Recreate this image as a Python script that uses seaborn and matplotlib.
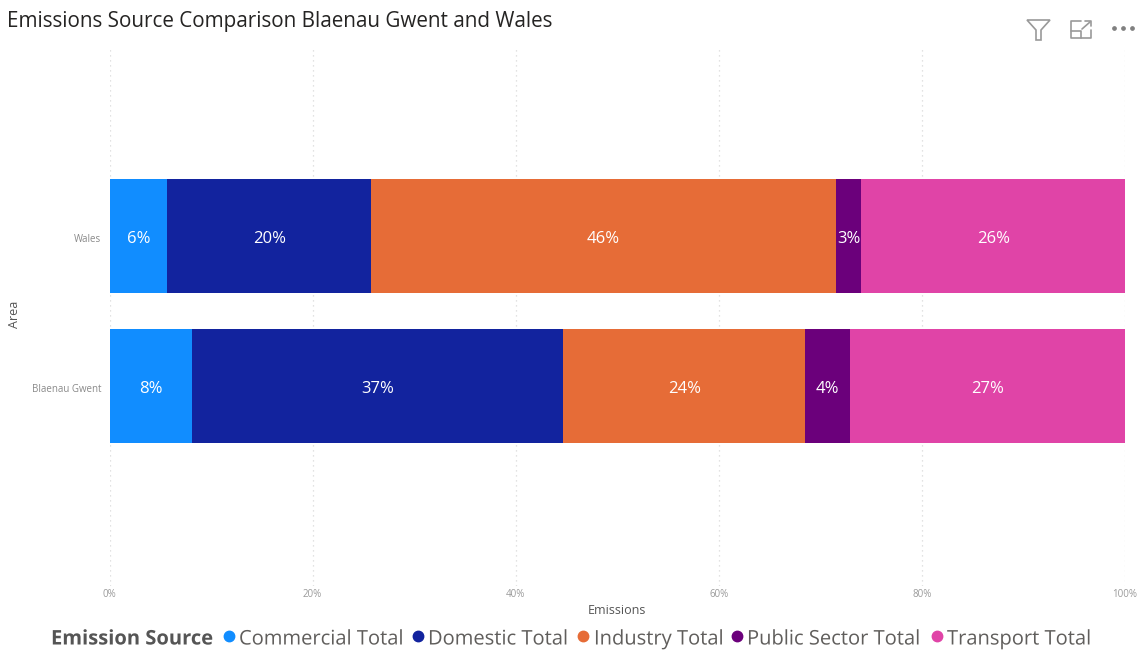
import matplotlib
matplotlib.use("Agg")
import matplotlib.pyplot as plt
import matplotlib.patheffects as pe
from matplotlib.lines import Line2D
from matplotlib.patches import Polygon
from matplotlib.transforms import ScaledTranslation
import pandas as pd
import seaborn as sns

areas = ["Wales", "Blaenau Gwent"]
sources = ["Commercial Total", "Domestic Total", "Industry Total",
           "Public Sector Total", "Transport Total"]
commercial = [5.7, 8.1]
domestic = [20.1, 36.6]
industry = [45.7, 23.8]
public_sector = [2.55, 4.4]
transport = [25.95, 27.1]
series = [commercial, domestic, industry, public_sector, transport]
colors = ["#118DFF", "#12239E", "#E66C37", "#6B007B", "#E044A7"]
ticks = [0, 20, 40, 60, 80, 100]

W, H = 1139, 652
sns.set_theme(style="white")
plt.rcParams["font.family"] = ["Open Sans", "DejaVu Sans"]
fig = plt.figure(figsize=(W / 100, H / 100), dpi=100, facecolor="white")
L, R, T, B = 109.5, 1125, 47, 586
ax = fig.add_axes([L / W, 1 - B / H, (R - L) / W, (B - T) / H])

left = [0.0, 0.0]
for name, vals, col in zip(sources, series, colors):
    df = pd.DataFrame({"Area": areas, "Emissions": vals})
    sns.barplot(data=df, y="Area", x="Emissions", order=areas, left=left,
                color=col, saturation=1, width=0.76, ax=ax, zorder=3,
                edgecolor="none", linewidth=0, label=name, legend=False)
    cont = ax.containers[-1]
    labs = ax.bar_label(cont, labels=[f"{v:.0f}%" for v in vals], label_type="center",
                        color="white", fontsize=12, zorder=4)
    for t in labs:
        t.xyann = (0, -2.2)
    left = [a + b for a, b in zip(left, vals)]

ax.set_xlim(0, 100)
ax.set_ylim((B - 236) / 150, -(236 - T) / 150)
ax.set_xticks(ticks)
ax.set_xticklabels([f"{t}%" for t in ticks], fontsize=7, color="#9a9a9a")
ax.tick_params(axis="x", length=0, pad=2.5)
ax.tick_params(axis="y", length=0, pad=5.8, labelsize=7, labelcolor="#8a8a8a")
for lbl in ax.get_yticklabels():
    lbl.set_transform(lbl.get_transform() + ScaledTranslation(0, -1.5 / 100, fig.dpi_scale_trans))
ax.xaxis.grid(True, color="#d9d9d9", linestyle=(0, (1, 3)), linewidth=0.9, zorder=0)
ax.yaxis.grid(False)
ax.set_axisbelow(True)
for s in ax.spines.values():
    s.set_visible(False)
ax.set_xlabel("Emissions", fontsize=9, color="#555555")
ax.set_ylabel("Area", fontsize=9, color="#555555")
ax.yaxis.set_label_coords((14 - L) / (R - L), (B - 314) / (B - T))
ax.xaxis.set_label_coords((617 - L) / (R - L), -(610 - B) / (B - T))
ax.xaxis.label.set_va("center")
ax.yaxis.label.set_va("center")

fig.text(7 / W, 1 - 22 / H, "Emissions Source Comparison Blaenau Gwent and Wales",
         fontsize=14.9, color="#252423", va="center", ha="left")
fig.text(51 / W, 1 - 644.5 / H, "Emission Source", fontsize=14.5, fontweight="bold",
         color="#555555", va="baseline", ha="left", path_effects=[pe.Normal()])

# legend entries laid out on one shared baseline
marker_x = [229, 418, 583, 737, 937]
text_x = [239, 428, 594, 747, 947]
for s, c, mx, tx in zip(sources, colors, marker_x, text_x):
    fig.add_artist(Line2D([mx / W], [1 - 636 / H], linestyle="none", marker="o",
                          markersize=7.5, color=c, transform=fig.transFigure))
    fig.text(tx / W, 1 - 644.5 / H, s, fontsize=14.5, color="#605E5C",
             va="baseline", ha="left", path_effects=[pe.Normal()])

def px(points):
    return [(x / W, 1 - y / H) for x, y in points]

def stroke(points, lw=1.2, color="#999999"):
    xy = px(points)
    fig.add_artist(Line2D([p[0] for p in xy], [p[1] for p in xy],
                          color=color, linewidth=lw, transform=fig.transFigure))

# visual header icons
fig.add_artist(Polygon(px([(1027, 20), (1050, 20), (1041, 30), (1041, 40), (1036, 40), (1036, 30)]),
                       closed=True, fill=False, edgecolor="#999999", linewidth=1.2,
                       transform=fig.transFigure))
stroke([(1081, 21), (1071, 21), (1071, 38), (1091, 38), (1091, 30)])
stroke([(1071, 31), (1081, 31), (1081, 38)])
stroke([(1082, 29), (1090, 22)])
stroke([(1085, 21), (1091, 21), (1091, 26)])
for x in (1114, 1123, 1132):
    fig.add_artist(Line2D([x / W], [1 - 28 / H], marker="o", markersize=2.4, color="#808080",
                          linestyle="none", transform=fig.transFigure))

fig.savefig("out.png", dpi=100)
